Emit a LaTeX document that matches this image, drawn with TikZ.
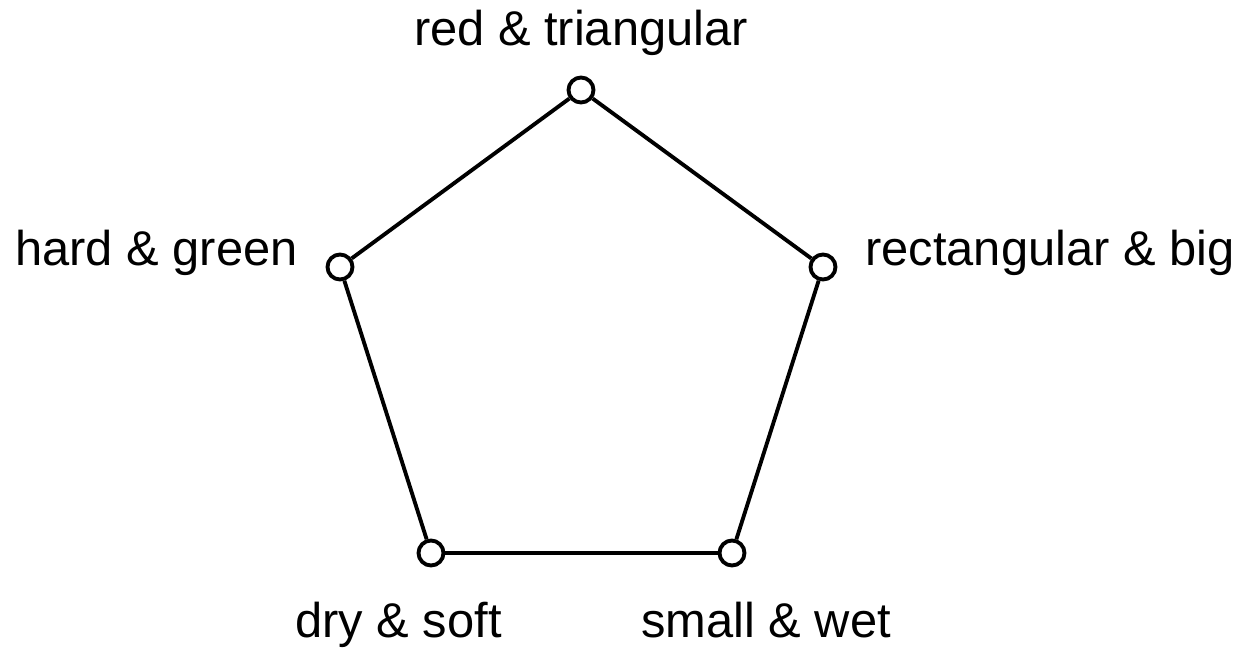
\documentclass[tikz,border=0pt]{standalone}
\usepackage{fontspec}
\setmainfont{Liberation Sans}
\begin{document}
\begin{tikzpicture}[x=0.02cm,y=-0.02cm,
  vtx/.style={circle,draw=black,fill=white,line width=2.2pt,minimum size=0.5cm,inner sep=0pt},
  lbl/.style={inner sep=0pt,font=\fontsize{27.8}{33}\selectfont},
  edge/.style={line width=2.2pt,black}]
\useasboundingbox (0,0) rectangle (1245,649);
\node[vtx] (t) at (581,90) {};
\node[vtx] (l) at (340,267) {};
\node[vtx] (r) at (823,267) {};
\node[vtx] (bl) at (431,553) {};
\node[vtx] (br) at (732,553) {};
\draw[edge] (t) -- (r);
\draw[edge] (r) -- (br);
\draw[edge] (br) -- (bl);
\draw[edge] (bl) -- (l);
\draw[edge] (l) -- (t);
\node[lbl,anchor=base] (tl) at (581,45) {red \& triangular};
\node[lbl,anchor=base east] (ll) at (298,265) {hard \& green};
\node[lbl,anchor=base west] (rl) at (865,265) {rectangular \& big};
\node[lbl,anchor=base west] (bll) at (295,637) {dry \& soft};
\node[lbl,anchor=base west] (brl) at (641,637) {small \& wet};
\end{tikzpicture}
\end{document}
